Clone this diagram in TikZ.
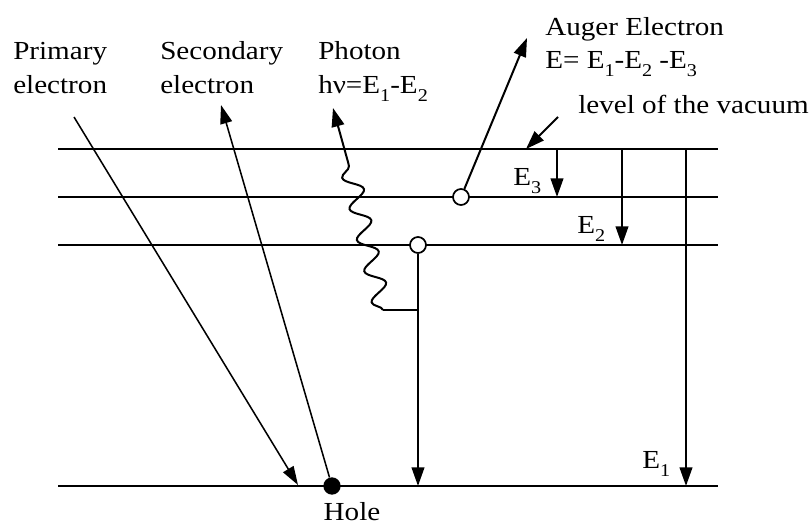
\documentclass[tikz,border=0pt]{standalone}
\usepackage{fontspec}
\setmainfont{Liberation Serif}[FakeStretch=1.12]
\usetikzlibrary{arrows.meta,decorations.pathmorphing}
\newcommand\sbx[1]{\raisebox{-6.5pt}{\fontsize{13.5pt}{13.5pt}\selectfont #1}}
\begin{document}
\begin{tikzpicture}[x=0.75pt,y=-0.75pt,
  level/.style={line width=1.7pt},
  arr/.style={line width=1.5pt,-{Triangle[length=14pt,width=9.5pt]}},
  thinarr/.style={line width=1.15pt,-{Triangle[length=14pt,width=9pt]}},
  lbl/.style={font=\fontsize{19.5pt}{23pt}\selectfont, inner sep=0pt, anchor=base west},
  ocirc/.style={circle,draw,line width=1.3pt,minimum size=12pt,inner sep=0pt,fill=white},
  hole/.style={circle,fill=black,minimum size=13pt,inner sep=0pt},
]
\useasboundingbox (0,0) rectangle (811,525);
% energy levels
\coordinate (v1) at (58,149);  \coordinate (v2) at (718,149);
\coordinate (l31) at (58,197); \coordinate (l32) at (718,197);
\coordinate (l21) at (58,245); \coordinate (l22) at (718,245);
\coordinate (b1) at (58,486);  \coordinate (b2) at (718,486);
\draw[level] (v1) -- (v2);
\draw[level] (l31) -- (l32);
\draw[level] (l21) -- (l22);
\draw[level] (b1) -- (b2);
% level arrows
\coordinate (e3t) at (557,149); \coordinate (e3b) at (557,197);
\coordinate (e2t) at (622,149); \coordinate (e2b) at (622,245);
\coordinate (e1t) at (686,149); \coordinate (e1b) at (686,486);
\draw[arr] (e3t) -- (e3b);
\draw[arr] (e2t) -- (e2b);
\draw[arr] (e1t) -- (e1b);
% circles
\node[ocirc] (c3) at (461,197) {};
\node[ocirc] (c2) at (418,245) {};
\node[hole] (hl) at (332,486) {};
% primary electron
\coordinate (pst) at (74,117);
\coordinate (ptip) at (298,485);
\draw[thinarr] (pst) -- (ptip);
% secondary electron
\coordinate (stip) at (221,105);
\draw[thinarr] (hl) -- (stip);
% transition
\coordinate (d2) at (418,486);
\draw[arr] (c2) -- (d2);
% photon
\coordinate (wb) at (383,310);
\coordinate (wt) at (348,162);
\coordinate (phtip) at (333,108);
\draw[line width=1.5pt,-{Triangle[length=14pt,width=9.5pt]}] (wb) decorate[decoration={snake,segment length=24pt,amplitude=7pt}] {-- (wt)} -- (phtip);
\draw[line width=1.5pt] (wb) -- (wb -| c2);
% Auger electron
\coordinate (atip) at (527,38);
\draw[arr] (c3) -- (atip);
% vacuum pointer
\coordinate (vst) at (558,117);
\coordinate (vtip) at (526,149);
\draw[arr] (vst) -- (vtip);
% labels
\node[lbl] (p1) at (13,59) {Primary};
\node[lbl] (p2) at (13,93) {electron};
\node[lbl] (s1) at (160,59) {Secondary};
\node[lbl] (s2) at (160,93) {electron};
\node[lbl] (h1) at (318,59) {Photon};
\node[lbl] (h2) at (318,93) {hν=E\sbx{1}-E\sbx{2}};
\node[lbl] (a1) at (545,35) {Auger Electron};
\node[lbl] (a2) at (545,68) {E= E\sbx{1}-E\sbx{2} -E\sbx{3}};
\node[lbl] (vac) at (578,113) {level of the vacuum};
\node[lbl,anchor=base] (hlt) at (352,520) {Hole};
\node[lbl] (le3) at (513,185) {E\sbx{3}};
\node[lbl] (le2) at (577,233) {E\sbx{2}};
\node[lbl] (le1) at (642,468) {E\sbx{1}};
\end{tikzpicture}
\end{document}
